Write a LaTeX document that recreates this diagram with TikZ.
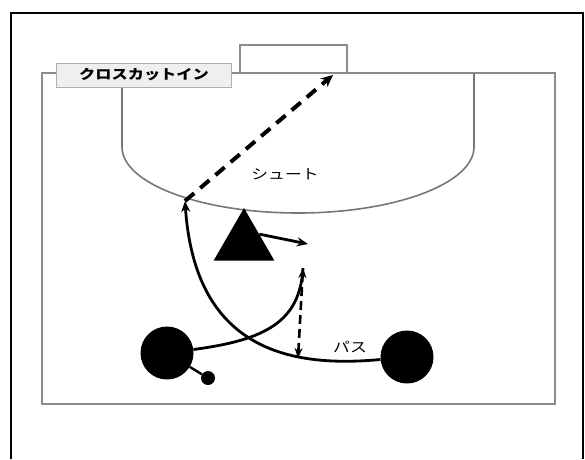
\documentclass[tikz,border=0pt]{standalone}
\usepackage{fontspec}
\newfontfamily\jp[FakeStretch=1.2]{Noto Sans CJK JP}
\usetikzlibrary{positioning,arrows.meta,shapes.geometric}
\definecolor{linegray}{HTML}{8C8C8C}
\definecolor{boxgray}{HTML}{EFEFEF}

\begin{document}
\begin{tikzpicture}[x=1pt, y=-1pt,
  court/.style={draw=linegray, line width=2.6pt},
  area/.style={draw=linegray!85!black, line width=1.6pt},
  player/.style={circle, fill=black, minimum size=53pt, inner sep=0pt},
  ballnode/.style={circle, fill=black, minimum size=14pt, inner sep=0pt},
  run/.style={line width=2.8pt, -{Stealth[length=11pt, width=9pt]}},
  shot/.style={line width=4pt, dash pattern=on 12pt off 8pt,
               -{Stealth[length=12pt, width=11pt]}},
  pass/.style={line width=2.6pt, dash pattern=on 9pt off 5pt,
               {Stealth[length=10pt, width=8pt]}-{Stealth[length=10pt, width=8pt]}},
  lbl/.style={font=\jp\fontsize{14}{16}\selectfont, inner sep=1pt},
]
\useasboundingbox (0,0) rectangle (585,459);
\fill[white] (0,0) rectangle (585,459);
% outer frame
\draw[line width=1.8pt] (11,459) -- (11,13) -- (583,13) -- (583,459);
% court
\draw[court] (42,73) rectangle (555,404);
\draw[court, line width=2.2pt] (240,73) -- (240,45) -- (347,45) -- (347,73);
\draw[area] (122,87) -- (122,147)
  arc[start angle=180, end angle=360, x radius=176pt, y radius=66pt]
  -- (474,73);
\node[draw=linegray!70, fill=boxgray, line width=1pt, minimum width=175pt,
  minimum height=24pt, font=\jp\bfseries\fontsize{13.5}{15}\selectfont]
  (title) at (144,75) {クロスカットイン};

% players
\node[player] (lp) at (167,353) {};
\node[player] (rp) at (407,357) {};
\node[ballnode] (ball) at (208,378) {};
\node[regular polygon, regular polygon sides=3, fill=black,
  minimum size=70pt, inner sep=0pt] (tri) at (244,243) {};

\coordinate (sh) at (185,201);
\coordinate (goal) at (333,75);
\coordinate (cut) at (308,244);
\coordinate (ptop) at (303,268);
\coordinate (pbot) at (298,358);

\draw[shot] (sh) -- (goal);
\draw[run] (rp) .. controls (290,368) and (195,350) .. (sh);
\draw[line width=2.8pt] (lp) .. controls (265,340) and (300,322) .. (ptop);
\draw[pass] (pbot) -- (ptop);
\draw[run] (tri.side 3) -- (cut);
\draw[line width=2.4pt] (lp) -- (ball);

\node[lbl] (shoot) at (285,174) {シュート};
\node[lbl] (passlbl) at (350,347) {パス};
\end{tikzpicture}
\end{document}
